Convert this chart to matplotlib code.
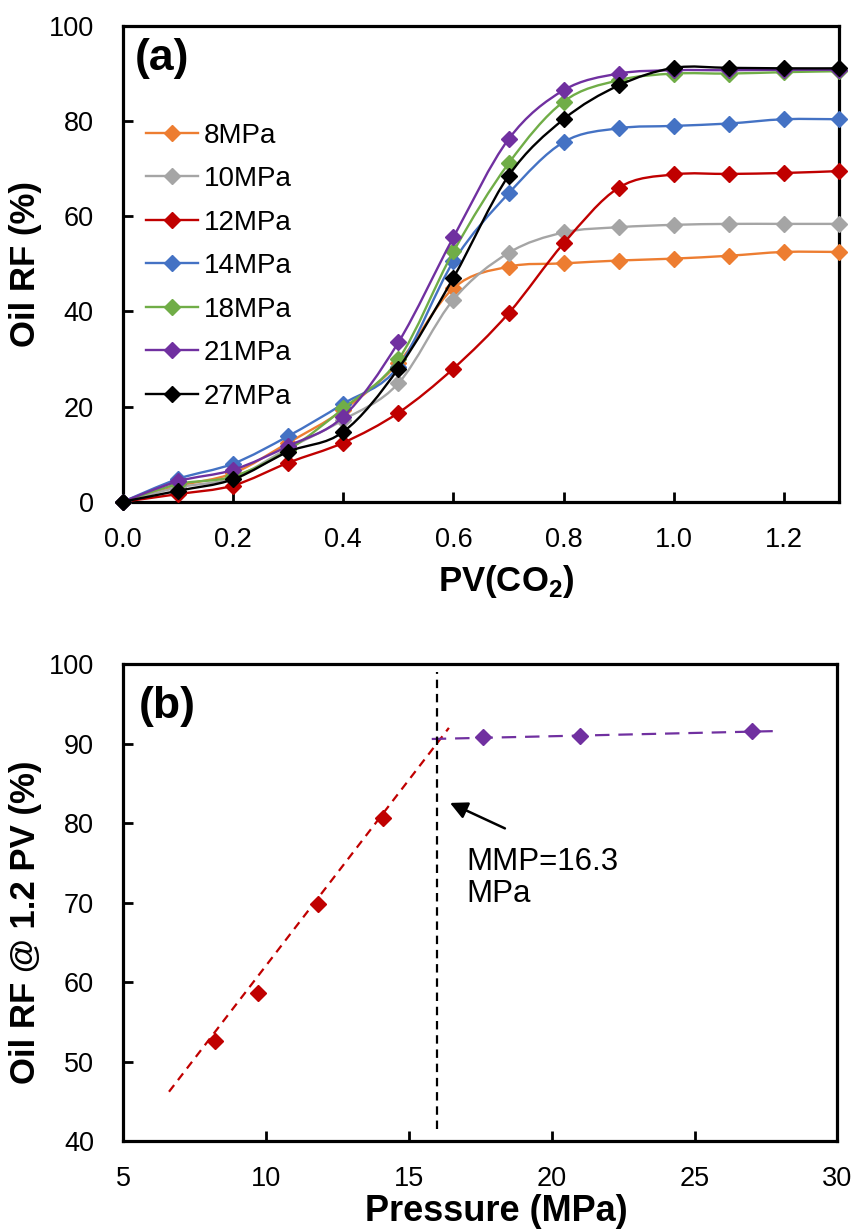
import numpy as np
import matplotlib
matplotlib.use("Agg")
import matplotlib.pyplot as plt
from matplotlib.path import Path
from matplotlib.patches import PathPatch
from matplotlib.lines import Line2D

plt.rcParams['font.family'] = ['Liberation Sans', 'DejaVu Sans']
plt.rcParams['mathtext.fontset'] = 'custom'
plt.rcParams['mathtext.rm'] = 'Liberation Sans'
plt.rcParams['mathtext.bf'] = 'Liberation Sans:bold'

# ---- data: panel (a), oil recovery vs injected PV ----
pv = [0.0, 0.1, 0.2, 0.3, 0.4, 0.5, 0.6, 0.7, 0.8, 0.9, 1.0, 1.1, 1.2, 1.3]
rf_8 = [0, 3.3, 6.0, 12.4, 19.3, 29.2, 44.9, 49.4, 50.1, 50.7, 51.1, 51.7, 52.5, 52.5]
rf_10 = [0, 3.0, 5.0, 11.2, 17.2, 24.9, 42.5, 52.3, 56.6, 57.7, 58.2, 58.4, 58.4, 58.4]
rf_12 = [0, 1.6, 3.4, 8.2, 12.4, 18.7, 28.0, 39.6, 54.3, 66.0, 68.8, 68.9, 69.1, 69.5]
rf_14 = [0, 4.8, 8.0, 13.8, 20.6, 28.4, 50.5, 64.8, 75.6, 78.5, 79.0, 79.5, 80.4, 80.4]
rf_18 = [0, 3.7, 5.3, 10.9, 19.6, 29.9, 52.6, 71.1, 84.1, 88.6, 90.0, 90.0, 90.3, 90.5]
rf_21 = [0, 4.3, 6.7, 11.7, 17.9, 33.5, 55.6, 76.2, 86.5, 90.0, 90.7, 90.7, 90.8, 90.8]
rf_27 = [0, 2.3, 4.7, 10.5, 14.7, 28.0, 47.1, 68.5, 80.4, 87.5, 91.2, 91.2, 91.1, 91.1]
labels = ['8MPa', '10MPa', '12MPa', '14MPa', '18MPa', '21MPa', '27MPa']
colors = ['#ED7D31', '#A5A5A5', '#C00000', '#4472C4', '#70AD47', '#7030A0', '#000000']

# ---- data: panel (b), RF at 1.2 PV vs pressure ----
p_immisc = [8.2, 9.7, 11.8, 14.1]
rf_immisc = [52.6, 58.6, 69.8, 80.6]
p_misc = [17.6, 21.0, 27.0]
rf_misc = [90.8, 91.0, 91.6]
fit_immisc_x = [6.6, 16.4]
fit_immisc_y = [46.2, 92.0]
fit_misc_x = [15.8, 27.9]
fit_misc_y = [90.6, 91.6]
mmp_x = 16.0
mmp_y = [41.5, 99.0]


def smooth_path(x, y):
    # excel-like smoothed line: catmull-rom as cubic bezier segments
    pts = np.column_stack([x, y]).astype(float)
    verts = [pts[0]]
    codes = [Path.MOVETO]
    n = len(pts)
    for i in range(n - 1):
        p0 = pts[i - 1] if i > 0 else pts[i]
        p1, p2 = pts[i], pts[i + 1]
        p3 = pts[i + 2] if i + 2 < n else pts[i + 1]
        verts += [p1 + (p2 - p0) / 6, p2 - (p3 - p1) / 6, p2]
        codes += [Path.CURVE4] * 3
    return Path(verts, codes)


W, H = 856, 1231
MS = 8.5
fig = plt.figure(figsize=(W / 100, H / 100), dpi=100)


def style_axes(ax):
    for s in ax.spines.values():
        s.set_linewidth(2.3)
    ax.tick_params(direction='in', length=7, width=2, labelsize=19.5)
    ax.tick_params(axis='y', pad=21)
    ax.tick_params(axis='x', pad=18)


# ---- panel (a) ----
ax1 = fig.add_axes([123 / W, 1 - 501.7 / H, (839 - 123) / W, (501.7 - 26) / H])
series = [rf_8, rf_10, rf_12, rf_14, rf_18, rf_21, rf_27]
for k, (rf, c) in enumerate(zip(series, colors)):
    ax1.add_patch(PathPatch(smooth_path(pv, rf), fill=False, edgecolor=c, lw=1.7, zorder=3 + 2 * k))
    ax1.plot(pv, rf, ls='none', marker='D', ms=MS, color=c, clip_on=False, zorder=4 + 2 * k)

ax1.set_xlim(0, 1.3)
ax1.set_ylim(0, 100)
ax1.set_xticks(np.arange(0, 1.21, 0.2))
ax1.set_xticklabels([f'{v:.1f}' for v in np.arange(0, 1.21, 0.2)])
ax1.set_yticks(range(0, 101, 20))
style_axes(ax1)
ax1.set_xlabel(r'PV(CO$_\mathbf{2}$)', fontsize=25, fontweight='bold')
ax1.xaxis.set_label_coords((506 - 123) / 716, (501.7 - 563) / 475.7)
ax1.set_ylabel('Oil RF (%)', fontsize=25, fontweight='bold')
ax1.yaxis.set_label_coords((42 - 123) / 716, 0.5)
ax1.text(0.017, 0.975, '(a)', transform=ax1.transAxes, fontsize=32, fontweight='bold', va='top', ha='left')

handles = [Line2D([], [], color=c, lw=1.7, marker='D', ms=MS) for c in colors]
ax1.legend(handles, labels, loc='upper left', bbox_to_anchor=(0.032, 0.797), frameon=False,
           fontsize=20, handlelength=1.88, handletextpad=0.2, labelspacing=0.63,
           borderaxespad=0, borderpad=0)

# ---- panel (b) ----
ax2 = fig.add_axes([123.3 / W, 1 - 1141 / H, (837.3 - 123.3) / W, (1141 - 664.3) / H])
ax2.plot(fit_immisc_x, fit_immisc_y, color='#C00000', lw=1.6, ls=(0, (3.8, 2.8)))
ax2.plot(fit_misc_x, fit_misc_y, color='#7030A0', lw=1.6, ls=(0, (6.5, 4.0)))
ax2.plot([mmp_x, mmp_x], mmp_y, color='black', lw=1.6, ls=(0, (3.8, 2.6)))
ax2.plot(p_immisc, rf_immisc, ls='none', marker='D', ms=MS, color='#C00000', zorder=5)
ax2.plot(p_misc, rf_misc, ls='none', marker='D', ms=MS, color='#7030A0', zorder=5)
ax2.annotate('', xy=(16.35, 82.7), xytext=(18.45, 79.2),
             arrowprops=dict(arrowstyle='-|>', color='black', lw=1.8, mutation_scale=26))
ax2.text(17.0, 77.0, 'MMP=16.3\nMPa', fontsize=22.5, va='top', ha='left', linespacing=1.1)

ax2.set_xlim(5, 30)
ax2.set_ylim(40, 100)
ax2.set_xticks(range(5, 31, 5))
ax2.set_yticks(range(40, 101, 10))
style_axes(ax2)
ax2.set_xlabel('Pressure (MPa)', fontsize=26, fontweight='bold')
ax2.xaxis.set_label_coords((496 - 123.3) / 714, (1141 - 1194) / 476.7)
ax2.set_ylabel('Oil RF @ 1.2 PV (%)', fontsize=25, fontweight='bold')
ax2.yaxis.set_label_coords((42 - 123.3) / 714, (1141 - 922) / 476.7)
ax2.text(0.022, 0.954, '(b)', transform=ax2.transAxes, fontsize=32, fontweight='bold', va='top', ha='left')

fig.savefig('out.png', dpi=100)
